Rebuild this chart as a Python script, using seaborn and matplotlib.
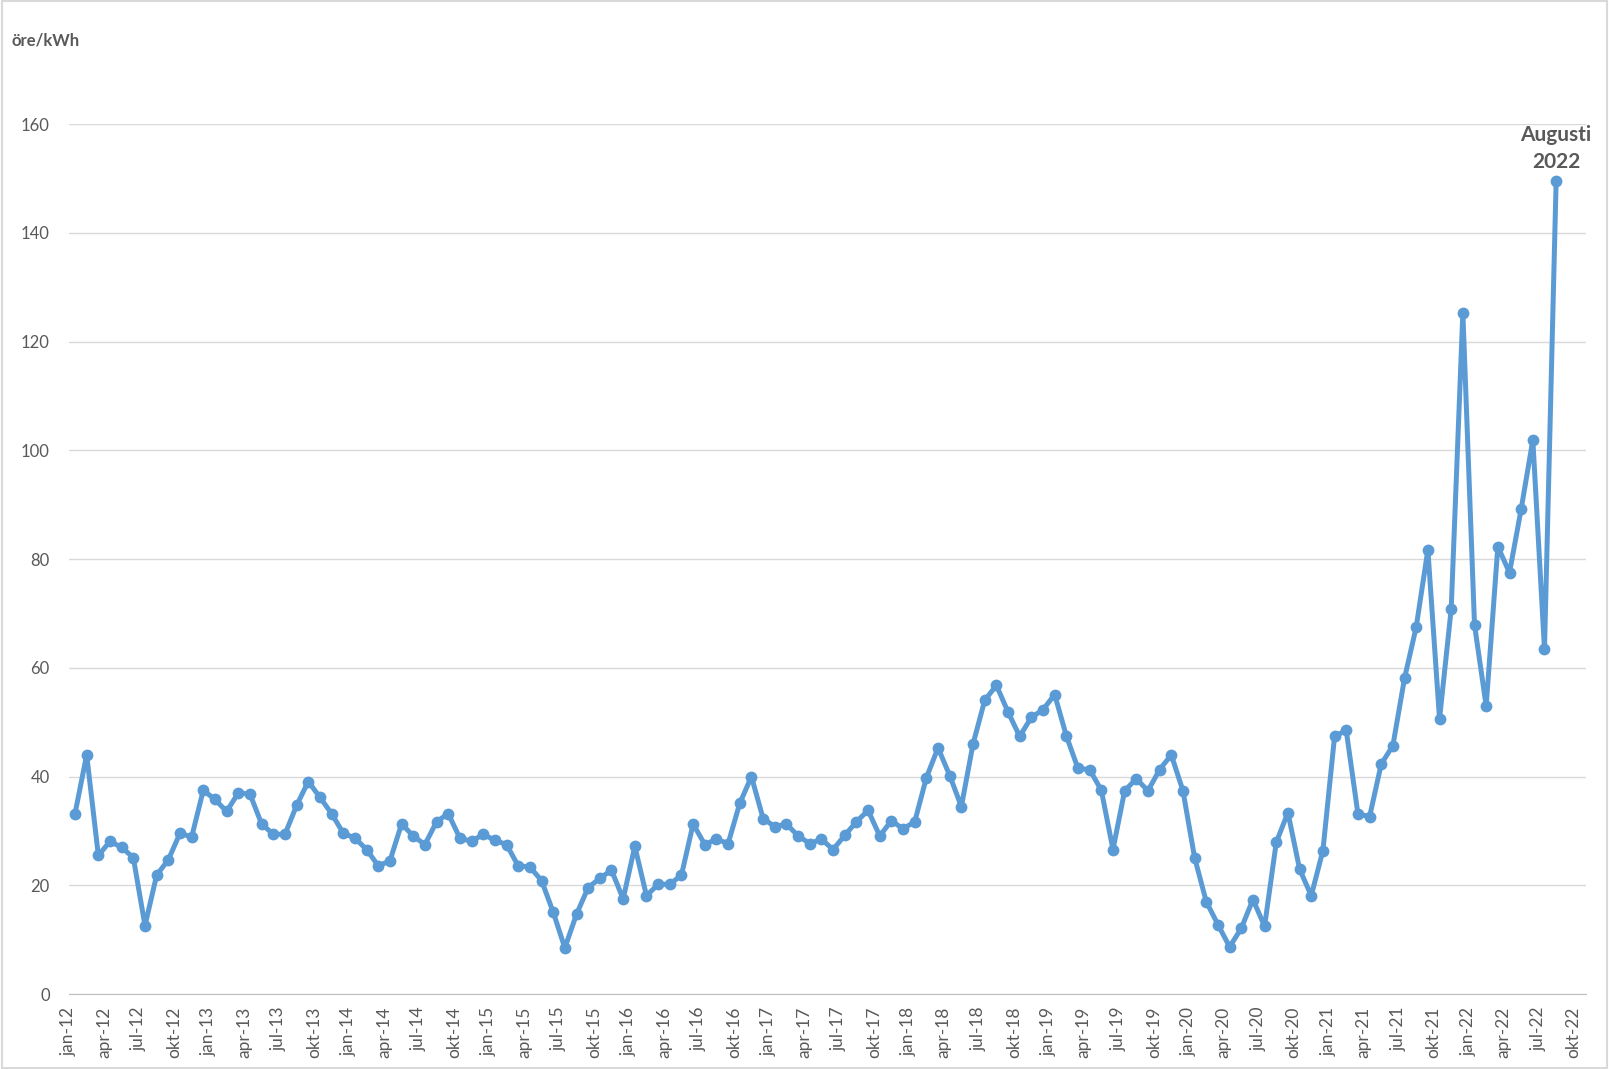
import pandas as pd
import matplotlib.pyplot as plt
import matplotlib.patches as mpatches
import seaborn as sns

# monthly price, ore/kWh, jan 2012 - aug 2022
y2012 = [33.2, 44.0, 25.5, 28.1, 27.0, 25.1, 12.6, 21.9, 24.7, 29.6, 28.9, 37.5]
y2013 = [35.8, 33.6, 37.0, 36.8, 31.3, 29.4, 29.4, 34.7, 39.1, 36.2, 33.2, 29.6]
y2014 = [28.7, 26.6, 23.6, 24.5, 31.3, 29.1, 27.5, 31.7, 33.2, 28.7, 28.1, 29.4]
y2015 = [28.3, 27.5, 23.6, 23.4, 20.9, 15.1, 8.5, 14.7, 19.6, 21.3, 22.8, 17.5]
y2016 = [27.2, 18.1, 20.2, 20.2, 21.9, 31.3, 27.5, 28.5, 27.7, 35.1, 40.0, 32.3]
y2017 = [30.8, 31.3, 29.1, 27.7, 28.5, 26.6, 29.2, 31.7, 33.8, 29.1, 31.9, 30.4]
y2018 = [31.7, 39.8, 45.3, 40.2, 34.5, 46.0, 54.0, 56.8, 51.9, 47.4, 50.9, 52.3]
y2019 = [55.1, 47.5, 41.5, 41.3, 37.5, 26.6, 37.4, 39.6, 37.4, 41.3, 44.0, 37.4]
y2020 = [25.1, 17.0, 12.8, 8.7, 12.1, 17.4, 12.5, 27.9, 33.4, 23.0, 18.1, 26.4]
y2021 = [47.4, 48.5, 33.2, 32.6, 42.3, 45.7, 58.1, 67.5, 81.7, 50.6, 70.8, 125.3]
y2022 = [67.9, 53.0, 82.3, 77.5, 89.2, 101.9, 63.4, 149.6]

tick_months = ['jan', 'apr', 'jul', 'okt']
tick_years = list(range(12, 23))
y_ticks = [0, 20, 40, 60, 80, 100, 120, 140, 160]

values = y2012 + y2013 + y2014 + y2015 + y2016 + y2017 + y2018 + y2019 + y2020 + y2021 + y2022
df = pd.DataFrame({'month': range(len(values)), 'price': values})

tick_labels = [f'{m}-{y}' for y in tick_years for m in tick_months]
tick_pos = [3 * k - 0.5 for k in range(len(tick_labels))]

sns.set_style('white')
plt.rcParams['font.family'] = ['Lato', 'DejaVu Sans']

fig = plt.figure(figsize=(16.09, 10.69), dpi=100)
ax = fig.add_axes([0.043, 0.07, 0.943, 0.814])

sns.lineplot(data=df, x='month', y='price', ax=ax, color='#5b9bd5', linewidth=3.6,
             marker='o', markersize=8.5, markeredgewidth=0, legend=False)

ax.set_xlim(-0.5, 129.6)
ax.set_ylim(0, 160)
ax.set_yticks(y_ticks)
ax.set_xticks(tick_pos)
ax.set_xticklabels(tick_labels, rotation=90)
ax.grid(axis='y', color='#d9d9d9', linewidth=1)
ax.set_axisbelow(True)
for s in ['top', 'right', 'left']:
    ax.spines[s].set_visible(False)
ax.spines['bottom'].set_color('#bfbfbf')
ax.tick_params(axis='x', direction='out', length=6, color='#bfbfbf', colors='#595959',
               labelsize=12.5, pad=3)
ax.tick_params(axis='y', length=0, colors='#595959', labelsize=12, pad=14)
ax.set_xlabel('')
ax.set_ylabel('')

fig.text(0.007, 0.962, 'öre/kWh', fontsize=12, fontweight='bold', color='#595959',
         va='center', ha='left')

last = len(values) - 1
ax.annotate('Augusti\n2022', xy=(last, values[last]), xytext=(0, 6), textcoords='offset points',
            ha='center', va='bottom', fontsize=15, fontweight='bold', color='#595959',
            linespacing=1.45)

fig.patches.append(mpatches.Rectangle((0.001, 0.001), 0.998, 0.998, transform=fig.transFigure,
                                      fill=False, edgecolor='#d9d9d9', linewidth=1.5))

plt.savefig('out.png', dpi=100)
